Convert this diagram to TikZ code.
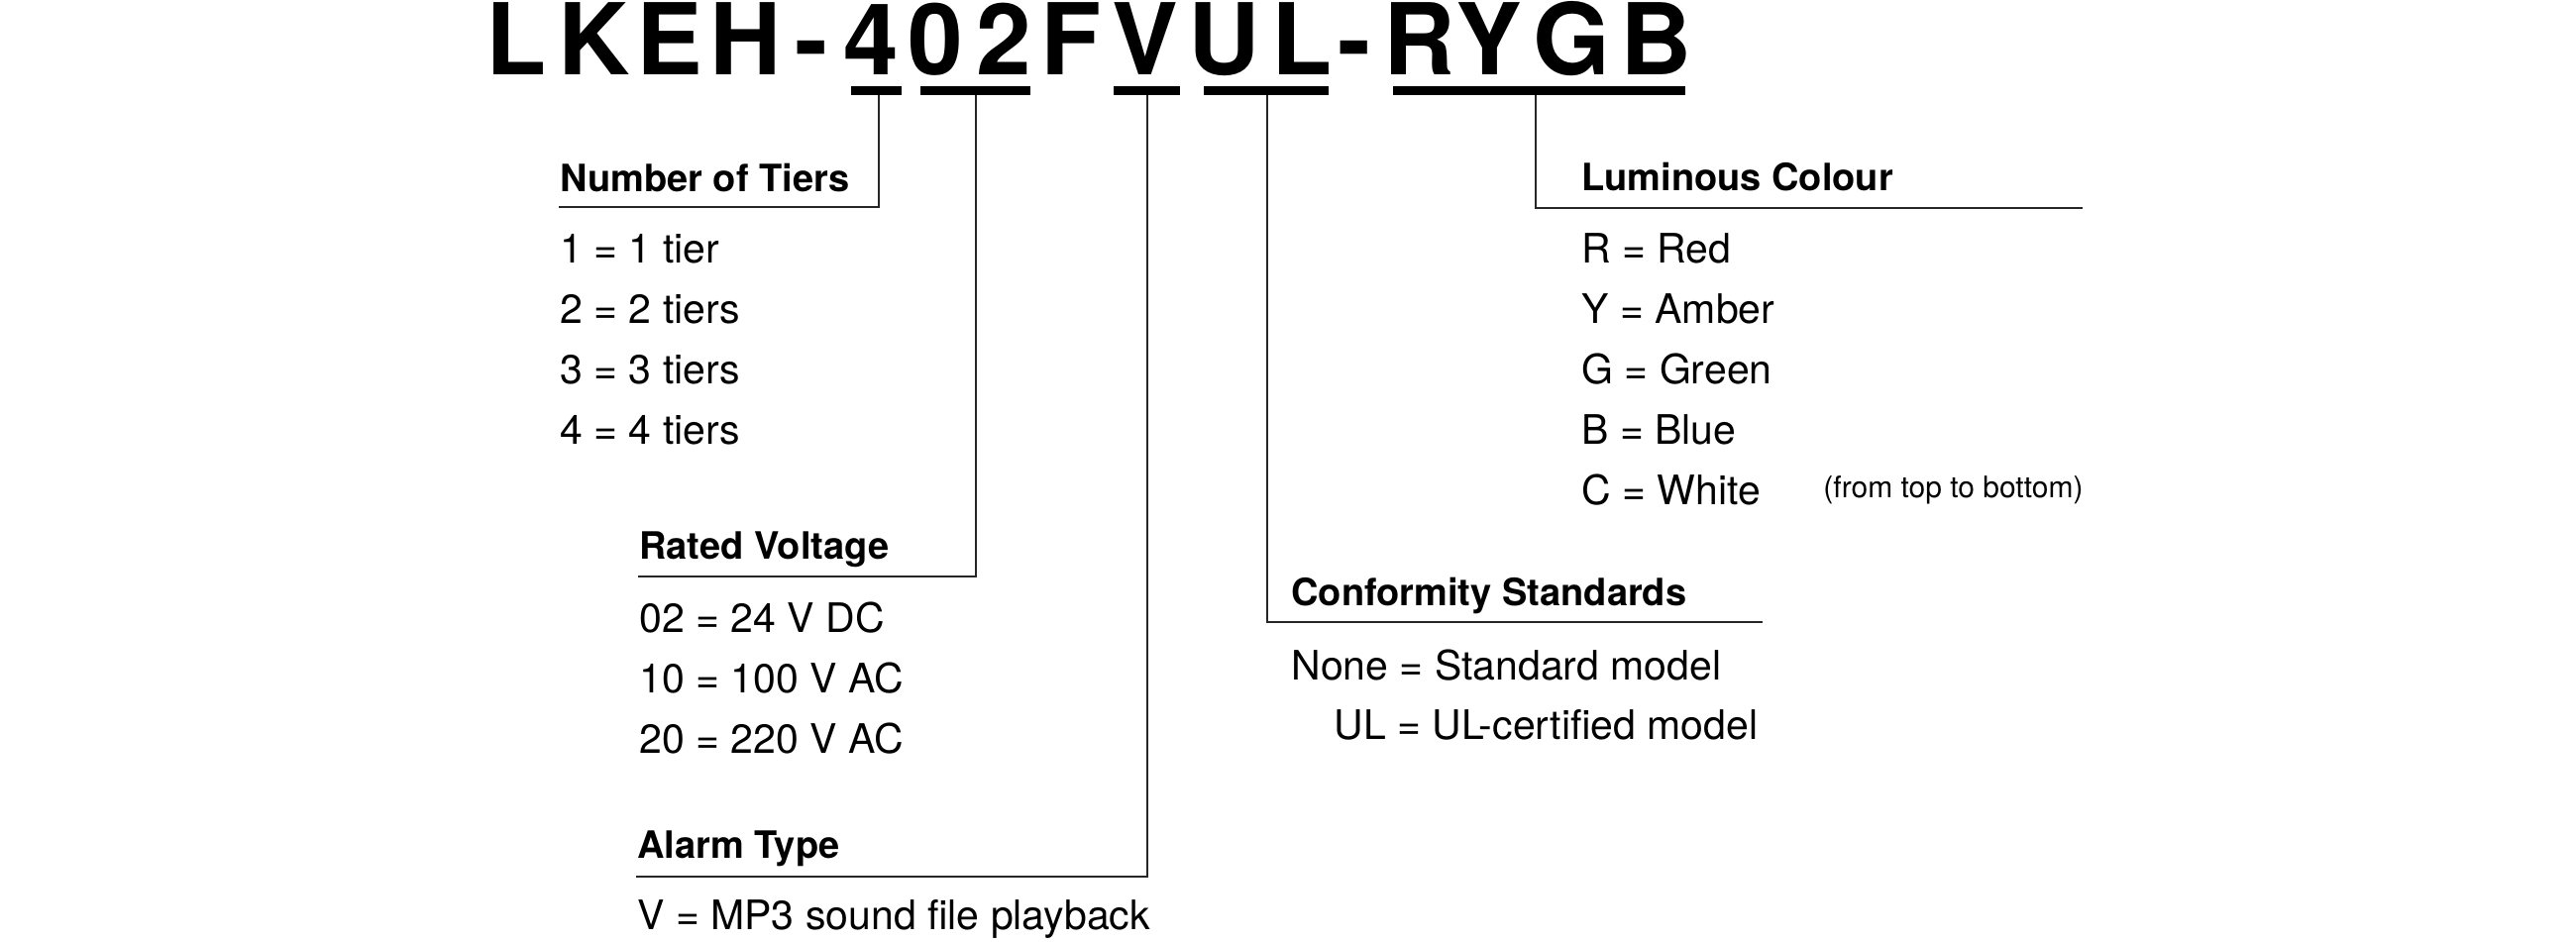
\documentclass[tikz,border=0pt]{standalone}
\usepackage{fontspec}
\setmainfont{TeX Gyre Heros}
\usepackage{tikz}

\newcommand{\codefont}{\bfseries\fontsize{50}{50}\selectfont}
\newcommand{\headfont}{\bfseries\fontsize{19}{20}\selectfont}
\newcommand{\itemfont}{\fontsize{20.5}{21}\selectfont}
\newcommand{\notefont}{\fontsize{15}{16}\selectfont}

\tikzset{
  codechar/.style={anchor=base, inner sep=0pt, font=\codefont},
  head/.style={anchor=base west, inner sep=0pt, font=\headfont},
  item/.style={anchor=base west, inner sep=0pt, font=\itemfont},
  leader/.style={line width=0.85pt, draw=black!85},
  codebar/.style={fill=black}
}

\begin{document}
\begin{tikzpicture}[x=0.5pt,y=-0.5pt]
    \useasboundingbox (0,0) rectangle (2600,950);
    % model code
    \foreach \ch/\xx [count=\i] in {L/521,K/600,E/676,H/753,-/819,4/879,0/944,2/1013,
        F/1081,V/1156,U/1236,L/1314,-/1367,R/1433,Y/1503,G/1586,B/1672}
      \node[codechar] (c\i) at (\xx,75) {\ch};
    \fill[codebar] (859,87) rectangle (910,96);
    \fill[codebar] (929,87) rectangle (1040,96);
    \fill[codebar] (1124,87) rectangle (1191,96);
    \fill[codebar] (1215,87) rectangle (1341,96);
    \fill[codebar] (1406,87) rectangle (1701,96);
    \coordinate (tierbar) at (886.7,96);
    \coordinate (voltbar) at (985,96);
    \coordinate (alarmbar) at (1157.7,96);
    \coordinate (stdbar) at (1278.7,96);
    \coordinate (colourbar) at (1550,96);

    % number of tiers
    \node[head] (tiers) at (565,193) {Number of Tiers};
    \coordinate (tierend) at (564,209.3);
    \draw[leader] (tierbar) |- (tierend);
    \foreach \t [count=\i] in {1 = 1 tier,2 = 2 tiers,3 = 3 tiers,4 = 4 tiers}
      \node[item] (tier\i) at (565,{265+61*(\i-1)}) {\t};

    % rated voltage
    \node[head] (volt) at (645,564.3) {Rated Voltage};
    \coordinate (voltend) at (644,581.7);
    \draw[leader] (voltbar) |- (voltend);
    \foreach \t [count=\i] in {02 = 24 V DC,10 = 100 V AC,20 = 220 V AC}
      \node[item] (volt\i) at (645,{638+61*(\i-1)}) {\t};

    % alarm type
    \node[head] (alarm) at (643,866.7) {Alarm Type};
    \coordinate (alarmend) at (642,885);
    \draw[leader] (alarmbar) |- (alarmend);
    \node[item] (alarm1) at (643,938) {V = MP3 sound file playback};

    % conformity standards
    \node[head] (std) at (1303,611.7) {Conformity Standards};
    \coordinate (stdend) at (1779,628.3);
    \draw[leader] (stdbar) |- (stdend);
    \node[item] (std1) at (1303,686) {None = Standard model};
    \node[item] (std2) at (1346,746) {UL = UL-certified model};

    % luminous colour
    \node[head] (colour) at (1596,192.7) {Luminous Colour};
    \coordinate (colourend) at (2102,210);
    \draw[leader] (colourbar) |- (colourend);
    \foreach \t [count=\i] in {R = Red,Y = Amber,G = Green,B = Blue,C = White}
      \node[item] (colour\i) at (1596,{265+61*(\i-1)}) {\t};
    \node[item, font=\notefont] (order) at (1840,502) {(from top to bottom)};
\end{tikzpicture}
\end{document}
